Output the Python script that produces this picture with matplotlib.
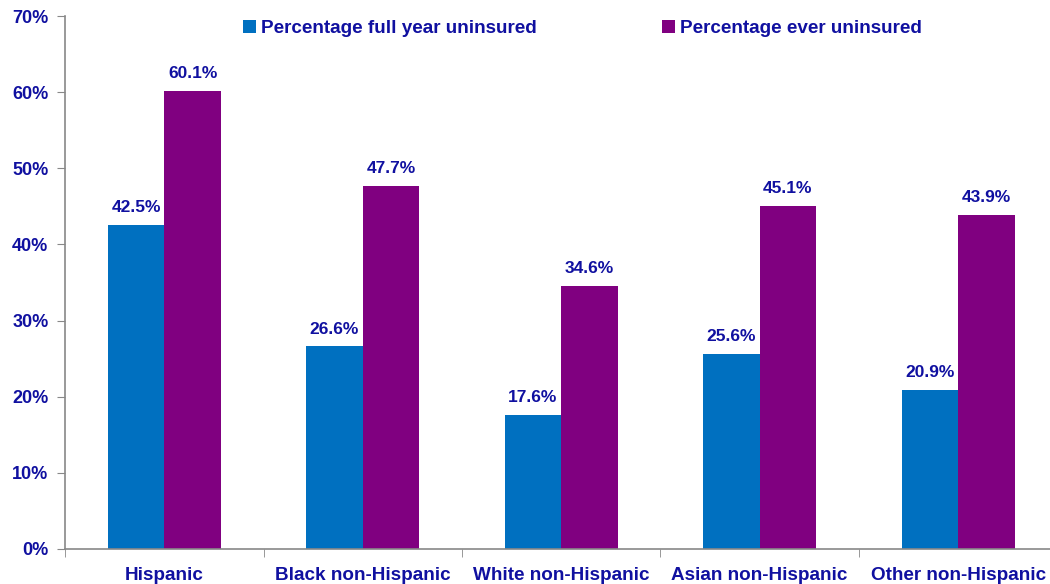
import matplotlib.pyplot as plt
import numpy as np

plt.rcParams['font.family'] = ['Liberation Sans', 'DejaVu Sans']
plt.rcParams['font.weight'] = 'bold'

categories = ['Hispanic', 'Black non-Hispanic', 'White non-Hispanic',
              'Asian non-Hispanic', 'Other non-Hispanic']
full_year = [42.5, 26.6, 17.6, 25.6, 20.9]
ever = [60.1, 47.7, 34.6, 45.1, 43.9]

navy = '#1010A0'
blue = '#0070C0'
purple = '#800080'

fig = plt.figure(figsize=(10.5, 5.84), dpi=100)
ax = fig.add_axes([0.062, 0.06, 0.945, 0.9126])

x = np.arange(len(categories))
w = 0.285
b1 = ax.bar(x - w / 2, full_year, w, color=blue, label='Percentage full year uninsured')
b2 = ax.bar(x + w / 2, ever, w, color=purple, label='Percentage ever uninsured')

for bars, vals in ((b1, full_year), (b2, ever)):
    for r, v in zip(bars, vals):
        ax.text(r.get_x() + r.get_width() / 2, v + 1.3, f'{v:.1f}%',
                ha='center', va='bottom', color=navy, fontsize=12.5, fontweight='bold')

ax.set_ylim(0, 70)
ax.set_xlim(-0.5, len(categories) - 0.5)
ax.set_yticks(range(0, 71, 10))
ax.set_yticklabels([f'{t}%' for t in range(0, 71, 10)])
ax.set_xticks(x)
ax.set_xticklabels(categories)
ax.set_xticks(np.arange(-0.5, len(categories), 1), minor=True)
ax.tick_params(axis='x', which='major', length=0, pad=13, labelsize=13.6, labelcolor=navy)
ax.tick_params(axis='x', which='minor', length=6, color='#888888')
ax.tick_params(axis='y', length=6, color='#888888', labelsize=13, labelcolor=navy, pad=6)
for lab in ax.get_xticklabels() + ax.get_yticklabels():
    lab.set_fontweight('bold')

for s in ('top', 'right'):
    ax.spines[s].set_visible(False)
for s in ('left', 'bottom'):
    ax.spines[s].set_color('#888888')
    ax.spines[s].set_linewidth(1.2)

leg = ax.legend(loc='upper left', bbox_to_anchor=(0.162, 1.025), ncol=2, frameon=False,
                handlelength=0.7, handleheight=0.7, handletextpad=0.25,
                columnspacing=6.65, prop={'size': 13.6, 'weight': 'bold'})
for t in leg.get_texts():
    t.set_color(navy)

fig.savefig('out.png', dpi=100)
